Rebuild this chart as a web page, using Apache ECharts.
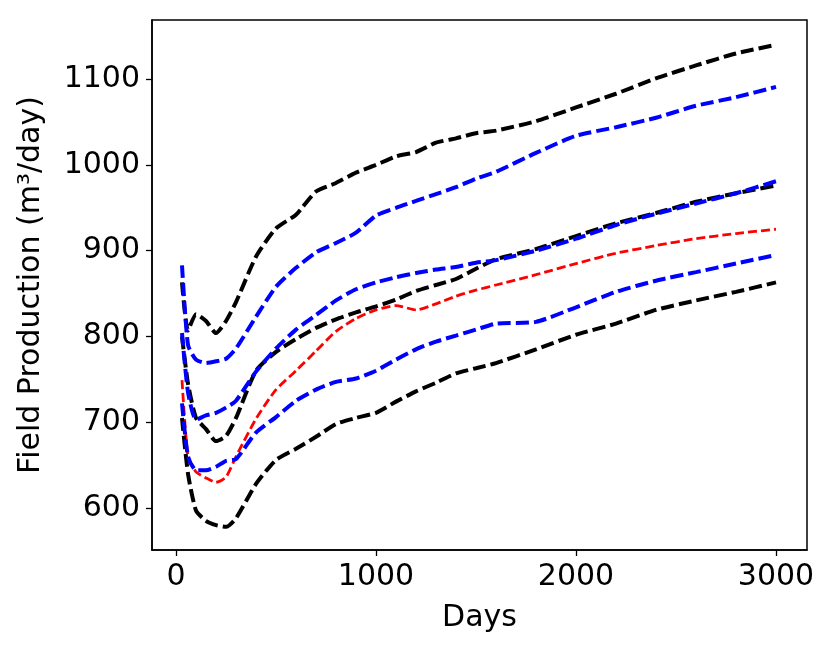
<!DOCTYPE html>
<html>
<head>
<meta charset="utf-8">
<script src="https://cdn.jsdelivr.net/npm/echarts@6/dist/echarts.min.js"></script>
<style>
html,body{margin:0;padding:0;background:#fff;}
#chart{width:831px;height:648px;}
</style>
</head>
<body>
<div id="chart"></div>
<script>
const days = [30, 60, 100, 150, 200, 250, 300, 400, 500, 600, 700, 800, 900, 1000, 1100, 1200, 1300, 1400, 1500, 1600, 1800, 2000, 2200, 2400, 2600, 2800, 3000];

const blackTop = [863, 807, 826, 818, 804, 818, 840, 893, 926, 942, 969, 979, 991, 1000, 1010, 1015, 1026, 1031, 1037, 1040, 1051, 1067, 1083, 1101, 1116, 1130, 1140];
const blueTop = [883, 790, 773, 769, 771, 774, 786, 823, 858, 880, 898, 909, 921, 941, 950, 958, 966, 974, 984, 992, 1014, 1034, 1044, 1055, 1069, 1079, 1091];
const blackMid = [800, 745, 705, 692, 678, 684, 705, 760, 782, 797, 810, 820, 828, 835, 843, 853, 860, 867, 879, 890, 902, 917, 932, 944, 957, 967, 976];
const blueMid = [804, 735, 703, 708, 711, 717, 725, 759, 786, 808, 825, 842, 855, 863, 869, 874, 878, 881, 886, 889, 900, 914, 930, 943, 955, 967, 981];
const redMean = [749, 660, 642, 635, 630, 636, 660, 704, 738, 760, 783, 806, 821, 831, 836, 831, 838, 847, 854, 860, 872, 885, 897, 906, 914, 920, 925];
const blueLow = [722, 660, 644, 644, 648, 655, 657, 688, 706, 725, 738, 747, 751, 760, 773, 785, 794, 801, 808, 815, 817, 834, 852, 865, 875, 885, 895];
const blackLow = [705, 640, 597, 585, 580, 578, 588, 628, 656, 669, 683, 698, 705, 711, 724, 736, 746, 757, 763, 769, 785, 802, 815, 831, 842, 852, 863];

const xTicks = [0, 1000, 2000, 3000];
const yTicks = [600, 700, 800, 900, 1000, 1100];

const FONT = 'DejaVu Sans';

function pair(vals) { return days.map((d, i) => [d, vals[i]]); }
function thick(name, vals, color) {
  return {
    name, type: 'line', data: pair(vals), showSymbol: false, smooth: 0.2,
    lineStyle: { color, width: 4, type: [13, 5], cap: 'butt' }, z: 3
  };
}

const chart = echarts.init(document.getElementById('chart'), null, { renderer: 'canvas' });
chart.setOption({
  animation: false,
  backgroundColor: '#ffffff',
  grid: { left: 152, top: 20, width: 655, height: 530, show: true, borderColor: '#000', borderWidth: 1.5, backgroundColor: 'transparent' },
  xAxis: {
    type: 'value', min: -120, max: 3155,
    name: 'Days', nameLocation: 'middle', nameGap: 53,
    nameTextStyle: { fontFamily: FONT, fontSize: 30, color: '#000' },
    axisLine: { show: true, onZero: false, lineStyle: { color: '#000', width: 1.5 } },
    axisTick: { show: true, customValues: xTicks, length: 6, lineStyle: { color: '#000', width: 1.3 } },
    axisLabel: { customValues: xTicks, formatter: v => String(v), fontFamily: FONT, fontSize: 30, color: '#000', margin: 12 },
    splitLine: { show: false }
  },
  yAxis: {
    type: 'value', min: 551, max: 1169,
    name: 'Field Production (m³/day)', nameLocation: 'middle', nameGap: 106,
    nameTextStyle: { fontFamily: FONT, fontSize: 30, color: '#000' },
    axisLine: { show: true, onZero: false, lineStyle: { color: '#000', width: 1.5 } },
    axisTick: { show: true, customValues: yTicks, length: 6, lineStyle: { color: '#000', width: 1.3 } },
    axisLabel: { customValues: yTicks, formatter: v => String(v), fontFamily: FONT, fontSize: 30, color: '#000', margin: 12 },
    splitLine: { show: false }
  },
  series: [
    {
      name: 'mean', type: 'line', data: pair(redMean), showSymbol: false, smooth: 0.2,
      lineStyle: { color: '#ff0000', width: 2.8, type: [9, 4], cap: 'butt' }, z: 2
    },
    thick('blackTop', blackTop, '#000000'),
    thick('blackMid', blackMid, '#000000'),
    thick('blackLow', blackLow, '#000000'),
    thick('blueTop', blueTop, '#0000ff'),
    thick('blueMid', blueMid, '#0000ff'),
    thick('blueLow', blueLow, '#0000ff')
  ]
});
</script>
</body>
</html>
